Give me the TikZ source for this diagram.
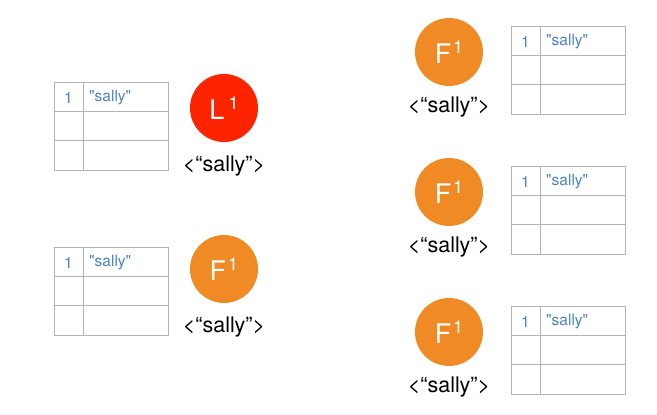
\documentclass[tikz,border=0pt]{standalone}
\usepackage{fontspec}
\setmainfont{TeX Gyre Heros}
\definecolor{gridgray}{HTML}{B4B4B4}
\definecolor{cellblue}{HTML}{4A82CC}
\definecolor{lred}{HTML}{FF2400}
\definecolor{forange}{HTML}{EF8A24}
\begin{document}
\begin{tikzpicture}[x=1pt,y=-1pt,
  gridline/.style={draw=gridgray,line width=0.9pt},
  celltxt/.style={text=cellblue,font=\fontsize{15.5}{15.5}\selectfont,inner sep=0pt},
  ball/.style={circle,minimum size=68pt,inner sep=0pt,text=white,font=\fontsize{27}{27}\selectfont},
  lab/.style={font=\fontsize{21.5}{21.5}\selectfont,inner sep=0pt}]
\useasboundingbox (0,0) rectangle (657,415);
\newcommand{\mytable}[3]{%
  \draw[gridline] (#1,#2) rectangle ++(114,88);
  \draw[gridline] (#1+29,#2) -- ++(0,88);
  \draw[gridline] (#1,#2+29.3) -- ++(114,0);
  \draw[gridline] (#1,#2+58.7) -- ++(114,0);
  \node[celltxt] (#3one) at (#1+14.5,#2+16) {1};
  \node[celltxt,anchor=west] (#3val) at (#1+35,#2+16) {\textquotedbl sally\textquotedbl};
}
\newcommand{\supone}{\raisebox{10.5pt}{\fontsize{18}{18}\selectfont 1}}
\mytable{54}{82}{ta}
\mytable{54}{247}{tb}
\mytable{511}{26}{tc}
\mytable{511}{166}{td}
\mytable{511}{306}{te}
\node[ball,fill=lred] (la) at (224,108) {L\kern4pt\supone};
\node[lab] (laa) at (224,166) {<“sally”>};
\node[ball,fill=forange] (fa) at (224,269) {F\kern2pt\supone};
\node[lab] (faa) at (224,327) {<“sally”>};
\node[ball,fill=forange] (fb) at (449,52) {F\kern2pt\supone};
\node[lab] (fba) at (449,107) {<“sally”>};
\node[ball,fill=forange] (fc) at (449,192) {F\kern2pt\supone};
\node[lab] (fca) at (449,247) {<“sally”>};
\node[ball,fill=forange] (fd) at (449,332) {F\kern2pt\supone};
\node[lab] (fda) at (449,387) {<“sally”>};
\end{tikzpicture}
\end{document}
